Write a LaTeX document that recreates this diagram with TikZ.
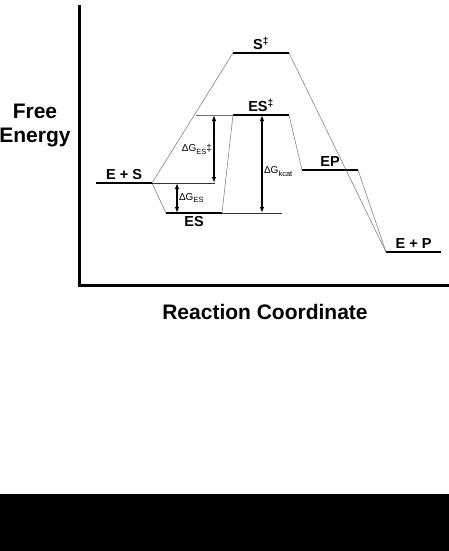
\documentclass[tikz,border=0pt]{standalone}
\usepackage{fontspec}
\setmainfont{Liberation Sans}
\usetikzlibrary{arrows.meta}
\newcommand\dgsub[1]{\raisebox{-0.55ex}{\fontsize{7.5}{8}\selectfont #1}}
\tikzset{
  >={Latex[length=6pt,width=4.5pt]},
  axis/.style={line width=3pt},
  level/.style={line width=1.8pt},
  link/.style={draw=black!55,line width=0.5pt},
  guide/.style={draw=black!80,line width=0.7pt},
  gap/.style={<->,line width=1.1pt},
  lvl/.style={font=\fontsize{14.5}{16}\selectfont\bfseries,inner sep=2.5pt},
  dg/.style={font=\fontsize{10}{12}\selectfont,inner sep=1.5pt},
  axis title/.style={font=\fontsize{21}{24}\selectfont\bfseries,align=center},
}
\begin{document}
\begin{tikzpicture}[x=1pt,y=-1pt]
  \useasboundingbox (0,0) rectangle (449,551);
  % axes
  \coordinate (top) at (79.5,5);
  \coordinate (origin) at (79.5,285);
  \coordinate (right) at (449,285);
  \draw[axis] (top) -- (origin) -- (right);
  \node[axis title] (ytitle) at (35,126) {Free\\Energy};
  \node[axis title] (xtitle) at (265,312) {Reaction Coordinate};
  % energy levels
  \foreach \n/\xa/\xb/\y/\t/\p in {es/96/152/183/E + S/above,
      c/166/222/213/ES/below, ts/233/289/53/S\textsuperscript{‡}/above,
      cts/233/289/115/ES\textsuperscript{‡}/above, ep/302/358/170/EP/above,
      p/386/441/252/E + P/above}
  {
    \coordinate (\n-l) at (\xa,\y);
    \coordinate (\n-r) at (\xb,\y);
    \draw[level] (\n-l) -- (\n-r) node[lvl,midway,\p] (\n) {\t};
  }
  % paths between levels
  \draw[link] (es-r) -- (ts-l);
  \draw[link] (es-r) -- (c-l);
  \draw[link] (c-r) -- (cts-l);
  \draw[link] (cts-r) -- (ep-l);
  \draw[link] (ts-r) -- (p-l);
  \draw[link] (ep-r) -- (p-l);
  % guide lines and energy gaps
  \coordinate (g-es) at (215,183);
  \coordinate (g-ts) at (196,115);
  \coordinate (g-c) at (282,213);
  \draw[guide] (es-r) -- (g-es);
  \draw[link] (g-ts) -- (cts-l);
  \draw[guide] (c-r) -- (g-c);
  \coordinate (a-ts) at (214,183);
  \coordinate (a-es) at (177,213);
  \coordinate (a-k) at (262,213);
  \draw[gap] (a-ts |- cts-l) -- (a-ts) node[dg,midway,left] (dgts) {ΔG\dgsub{ES}‡};
  \draw[gap] (a-es |- es-r) -- (a-es) node[dg,midway,right] (dges) {ΔG\dgsub{ES}};
  \draw[gap] (a-k |- cts-l) -- (a-k) node[dg,pos=0.58,right] (dgk) {ΔG\dgsub{kcat}};
  % bar
  \fill (0,494) rectangle (449,551);
\end{tikzpicture}
\end{document}
